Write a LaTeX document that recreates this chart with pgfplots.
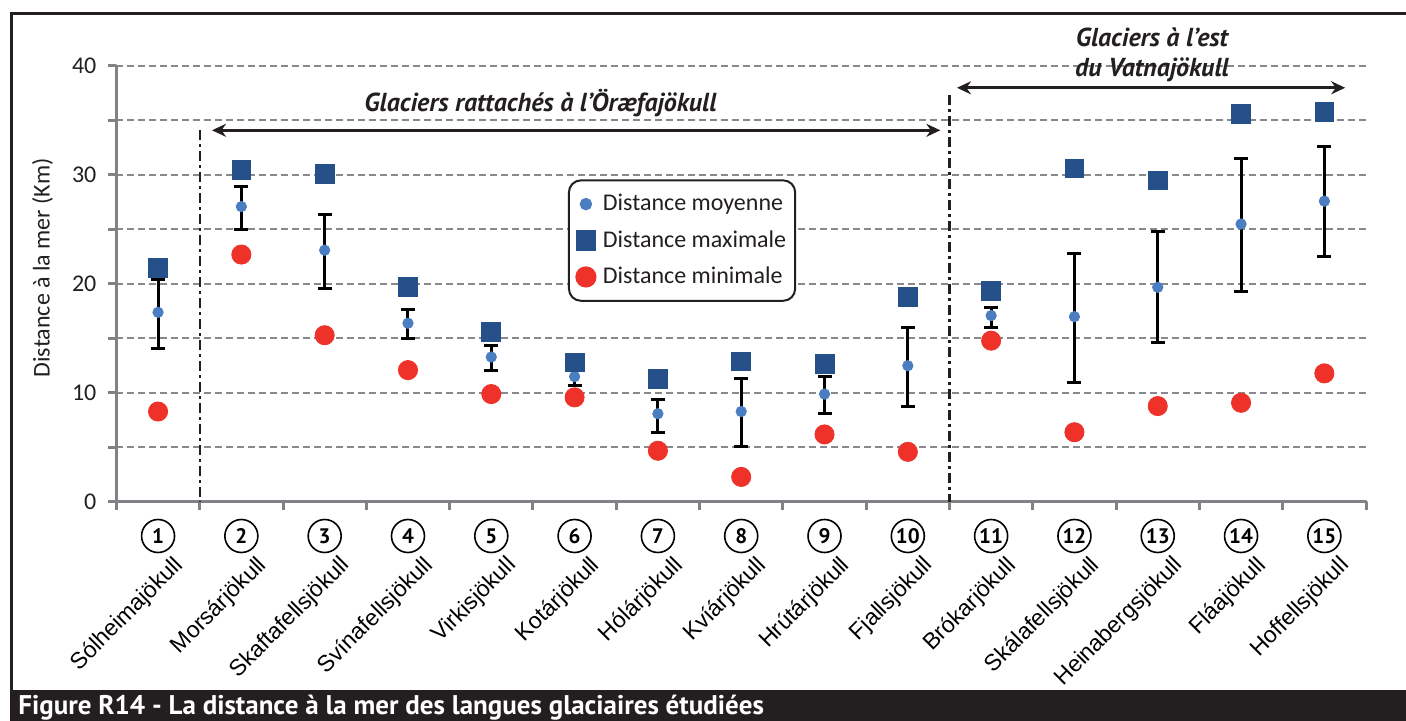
\documentclass[border=0pt]{standalone}
\usepackage{pgfplots}
\pgfplotsset{compat=1.18}
\usepackage{pgfplotstable}
\usetikzlibrary{arrows.meta}
\usepackage{fontspec}
\setmainfont{Carlito}
\newfontfamily\ptsans{PT Sans}
\newfontfamily\arial{Liberation Sans}
\definecolor{meanblue}{RGB}{74,126,193}
\definecolor{maxblue}{RGB}{38,80,138}
\definecolor{minred}{RGB}{238,50,42}
\definecolor{axisgray}{RGB}{128,130,133}
\definecolor{gridgray}{RGB}{135,137,140}
\definecolor{textdark}{RGB}{35,31,32}

\pgfplotstableread{
x mean ep em max min
1 17.4 3.0 3.3 21.5 8.3
2 27.1 1.8 2.1 30.5 22.7
3 23.1 3.3 3.5 30.1 15.3
4 16.4 1.3 1.4 19.7 12.1
5 13.3 1.1 1.2 15.6 9.9
6 11.5 0.8 0.8 12.8 9.6
7 8.1 1.3 1.7 11.3 4.7
8 8.3 3.0 3.2 12.9 2.3
9 9.9 1.6 1.8 12.7 6.2
10 12.5 3.5 3.7 18.8 4.6
11 17.1 0.7 1.1 19.4 14.8
12 17.0 5.8 6.0 30.6 6.4
13 19.7 5.1 5.1 29.5 8.8
14 25.5 6.0 6.2 35.6 9.1
15 27.6 5.0 5.1 35.8 11.8
}\data

\begin{document}
\begin{tikzpicture}
\useasboundingbox (0,0) rectangle (703pt,360.5pt);
\begin{axis}[
  at={(58.2pt,109.5pt)}, anchor=south west,
  scale only axis, width=624.8pt, height=218pt,
  xmin=0.5, xmax=15.5, ymin=0, ymax=40,
  clip=false,
  axis x line=bottom, axis y line=left,
  axis line style={-, line width=1.5pt, draw=axisgray, line cap=round},
  tick align=outside,
  xtick={0.5,1.5,...,15.5}, xticklabels={},
  ytick={0,10,20,30,40}, minor ytick={5,15,25,35},
  major tick length=4pt, minor tick length=4pt,
  tick style={draw=axisgray, line width=1.5pt},
  minor tick style={draw=axisgray, line width=1.5pt},
  ymajorgrids, yminorgrids,
  major grid style={draw=gridgray, line width=1pt, dash pattern=on 3.5pt off 2pt},
  minor grid style={draw=gridgray, line width=1pt, dash pattern=on 3.5pt off 2pt},
  extra x ticks={1,...,15},
  extra x tick labels={Sólheimajökull,Morsárjökull,Skaftafellsjökull,Svínafellsjökull,Virkisjökull,Kotárjökull,Hólárjökull,Kvíárjökull,Hrútárjökull,Fjallsjökull,Brókarjökull,Skálafellsjökull,Heinabergsjökull,Fláajökull,Hoffellsjökull},
  extra x tick style={major tick length=0pt, grid=none, tick style={draw=none},
    xticklabel style={xshift=7pt, yshift=-26pt, rotate=45, anchor=north east, inner sep=0pt, font=\arial\fontsize{11.5}{13}\selectfont, text=black}},
  yticklabel style={xshift=-2.5pt, font=\fontsize{12}{14}\selectfont, text=textdark},
  /pgf/number format/assume math mode=true,
  ylabel={Distance à la mer (Km)},
  ylabel style={at={(axis description cs:-0.0592,0.537)}, anchor=center, font=\fontsize{12}{14}\selectfont, text=textdark},
  legend style={at={(axis cs:5.92,29.6)}, anchor=north west, draw=textdark, line width=1pt, rounded corners=6pt,
    font=\fontsize{12}{14}\selectfont, text=textdark, inner xsep=2.5pt, inner ysep=5pt, row sep=4.4pt, fill=white},
  legend cell align=left,
  legend image code/.code={\draw[#1, only marks] plot coordinates {(0pt,0pt)}; \path[draw=none, fill=none] (-6pt,0pt) -- (6.5pt,0pt);},
]
\addplot[forget plot, draw=none, mark=none, error bars/.cd, y dir=both, y explicit,
  error bar style={draw=black, line width=1.5pt},
  error mark options={draw=black, rotate=90, mark size=3.5pt, line width=1.5pt}]
  table[x=x, y=mean, y error plus=ep, y error minus=em] {\data};
\addplot[only marks, color=meanblue, mark=*, mark size=2.6pt, mark options={fill=meanblue, sharp corners}] table[x=x, y=mean] {\data};
\addlegendentry{Distance moyenne}
\addplot[only marks, color=maxblue, mark=square*, mark size=4.7pt, mark options={fill=maxblue, sharp corners}] table[x=x, y=max] {\data};
\addlegendentry{Distance maximale}
\addplot[only marks, color=minred, mark=*, mark size=4.8pt, mark options={fill=minred, sharp corners}] table[x=x, y=min] {\data};
\addlegendentry{Distance minimale}

\draw[textdark, line width=1.2pt, dash pattern=on 5pt off 2pt on 1.5pt off 2pt] (axis cs:1.5,34.1) -- (axis cs:1.5,0);
\draw[textdark, line width=1.2pt, dash pattern=on 5pt off 2pt on 1.5pt off 2pt] (axis cs:10.5,37.3) -- (axis cs:10.5,0);
\draw[{Stealth[length=7pt,width=6.5pt]}-{Stealth[length=7pt,width=6.5pt]}, line width=1.3pt, textdark] (axis cs:1.648,34.1) -- (axis cs:10.39,34.1);
\draw[{Stealth[length=7pt,width=6.5pt]}-{Stealth[length=7pt,width=6.5pt]}, line width=1.3pt, textdark] (axis cs:10.59,38.0) -- (axis cs:15.25,38.0);
\node[font=\ptsans\bfseries\itshape\fontsize{13}{15}\selectfont, text=textdark] at (axis cs:5.59,36.6) {Glaciers rattachés à l’Öræfajökull};
\node[align=center, font=\ptsans\bfseries\itshape\fontsize{13}{15}\selectfont, text=textdark] at (axis cs:12.93,41.0) {Glaciers à l’est\\du Vatnajökull};
\pgfplotsinvokeforeach{1,...,15}{
  \node[circle, draw=black, line width=0.8pt, minimum size=16.5pt, inner sep=0pt, font=\ptsans\bfseries\fontsize{10.5}{12}\selectfont] at (axis cs:#1,-3.12) {#1};
}
\end{axis}
\draw[textdark, line width=1.5pt] (5.5pt,15.5pt) -- (5.5pt,353.5pt) -- (703pt,353.5pt);
\fill[textdark] (4.75pt,0pt) rectangle (703pt,15.5pt);
\node[anchor=base west, inner sep=0pt, text=white, font=\ptsans\bfseries\fontsize{13.5}{15}\selectfont] at (9pt,3pt) {Figure R14 - La distance à la mer des langues glaciaires étudiées};
\end{tikzpicture}
\end{document}
